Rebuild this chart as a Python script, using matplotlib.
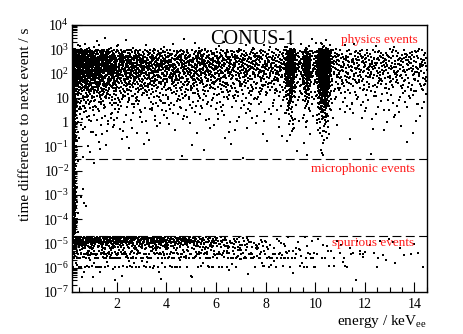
import numpy as np
import matplotlib
matplotlib.use('Agg')
import matplotlib.pyplot as plt
from matplotlib.ticker import FixedLocator, MultipleLocator, NullFormatter, LogLocator

plt.rcParams['font.family'] = 'Liberation Serif'
plt.rcParams['mathtext.fontset'] = 'custom'
plt.rcParams['mathtext.rm'] = 'Liberation Serif'
plt.rcParams['mathtext.it'] = 'Liberation Serif:italic'

# physics events: counts per energy bin (keV) and their share per log10(dt / s) row
phys_e_edges = [0.33, 0.5, 1.0, 1.5, 2.0, 2.5, 3.0, 3.5, 4.0, 4.5, 5.0, 5.5, 6.0, 6.5, 7.0,
                7.5, 8.0, 8.5, 9.0, 9.5, 10.0, 10.5, 11.0, 11.5, 12.0, 12.5, 13.0, 13.5, 14.0, 14.5]
phys_counts = [95, 270, 240, 200, 160, 140, 128, 120, 115, 112, 108, 104, 100, 96, 92,
               88, 85, 82, 80, 78, 75, 70, 66, 64, 62, 60, 58, 57, 56]
phys_lt_edges = [3.5, 3.25, 3.0, 2.75, 2.5, 2.25, 2.0, 1.75, 1.5, 1.25, 1.0, 0.75, 0.5, 0.0, -0.5, -1.0, -1.5]
phys_profile = [0.002, 0.01, 0.10, 0.16, 0.165, 0.15, 0.12, 0.09, 0.065, 0.045, 0.032, 0.024,
                0.028, 0.013, 0.006, 0.003]

# K-shell X-ray lines (Zn, Ga, Ge), same time profile as the physics band
zn_e_edges = [8.80, 8.90, 9.00, 9.10, 9.20]
zn_counts = [40, 90, 85, 35]
ga_e_edges = [9.50, 9.60, 9.70, 9.80]
ga_counts = [35, 70, 35]
ge_e_edges = [10.05, 10.15, 10.25, 10.35, 10.45, 10.55, 10.65]
ge_counts = [40, 135, 200, 190, 105, 30]

# noise column at threshold: energy bins x decades of dt
thr_e_edges = [0.20, 0.27, 0.34, 0.44]
thr_lt_edges = [3.0, 2.0, 1.0, 0.0, -1.0, -2.0, -3.0, -4.0, -4.72]
thr_counts = [[30, 24, 0],
              [30, 24, 0],
              [28, 22, 5],
              [28, 20, 5],
              [28, 18, 4],
              [28, 18, 4],
              [28, 18, 4],
              [20, 13, 3]]

# spurious events below 2e-5 s: 1 keV bins, rows (top, bottom) in log10(dt)
spur_e_edges = [0.2, 1, 2, 3, 4, 5, 6, 7, 8, 9, 10, 11, 12, 13, 14.5]
spur_lt_top = [-4.72, -4.85, -5.00, -5.20, -5.40, -5.44, -5.575, -5.61, -5.94, -5.98]
spur_lt_bot = [-4.85, -5.00, -5.20, -5.38, -5.44, -5.57, -5.61, -5.93, -5.98, -6.55]
spur_counts = [[30, 36, 34, 30, 24, 15, 7, 3, 2, 1, 1, 0, 1, 0],
               [32, 38, 36, 34, 30, 24, 15, 7, 3, 2, 1, 1, 1, 1],
               [20, 24, 22, 21, 19, 18, 16, 10, 5, 3, 2, 2, 1, 1],
               [9, 10, 9, 8, 8, 7, 7, 6, 4, 3, 2, 2, 1, 1],
               [10, 12, 11, 10, 9, 8, 7, 6, 4, 3, 2, 2, 1, 1],
               [4, 4, 4, 3, 3, 3, 3, 2, 2, 1, 1, 1, 1, 1],
               [9, 10, 9, 8, 7, 7, 6, 9, 8, 6, 2, 2, 1, 1],
               [4, 3, 3, 3, 2, 2, 2, 2, 2, 1, 1, 1, 1, 1],
               [6, 7, 6, 6, 5, 5, 4, 3, 3, 3, 2, 2, 1, 1],
               [4, 3, 2, 2, 2, 1, 1, 1, 1, 1, 0, 1, 0, 0]]

# single events in the microphonic window
micro_e = [1.07, 0.63, 0.67, 0.75, 0.55, 1.31, 10.3]
micro_lt = [-1.68, -2.75, -3.33, -3.45, -3.10, -1.10, -1.35]

micro_cut = 3e-2
spur_cut = 2e-5

y_decades = [-7, -6, -5, -4, -3, -2, -1, 0, 1, 2, 3, 4]
y_labels = ['$10^{-7}$', '$10^{-6}$', '$10^{-5}$', '$10^{-4}$', '$10^{-3}$', '$10^{-2}$',
            '$10^{-1}$', '1', '10', '$10^{2}$', '$10^{3}$', '$10^{4}$']
x_ticks = [2, 4, 6, 8, 10, 12, 14]

# events are laid out with a fixed Halton (2, 3) sequence, pushed through
# the binned distributions above
xs, ys = [], []
k0 = [37]


def radical_inverse(k, base):
    k = k.copy()
    r = np.zeros(len(k))
    f = 1.0
    while np.any(k > 0):
        f /= base
        r += f * (k % base)
        k //= base
    return r


def halton(n):
    k = k0[0] + np.arange(1, n + 1)
    k0[0] += n
    return radical_inverse(k, 2), radical_inverse(k, 3)


def inv_cdf(q, lo, hi, w):
    lo, hi, w = np.asarray(lo, float), np.asarray(hi, float), np.asarray(w, float)
    c = np.concatenate([[0], np.cumsum(w) / w.sum()])
    i = np.clip(np.searchsorted(c, q, side='right') - 1, 0, len(w) - 1)
    width = c[i + 1] - c[i]
    f = np.where(width > 0, (q - c[i]) / np.where(width > 0, width, 1), 0.5)
    return lo[i] + (hi[i] - lo[i]) * f


def block(e_edges, e_w, lt_lo, lt_hi, lt_w):
    n = int(round(sum(e_w)))
    if n == 0:
        return
    u, v = halton(n)
    xs.append(inv_cdf(u, e_edges[:-1], e_edges[1:], e_w))
    ys.append(inv_cdf(v, lt_lo, lt_hi, lt_w))


for e_edges, counts in [(phys_e_edges, phys_counts), (zn_e_edges, zn_counts),
                        (ga_e_edges, ga_counts), (ge_e_edges, ge_counts)]:
    block(e_edges, counts, phys_lt_edges[1:], phys_lt_edges[:-1], phys_profile)

thr = np.array(thr_counts)
for i in range(thr.shape[1]):
    block(thr_e_edges[i:i + 2], [thr[:, i].sum()], thr_lt_edges[1:], thr_lt_edges[:-1], thr[:, i])

spur = np.array(spur_counts)
for i in range(spur.shape[1]):
    block(spur_e_edges[i:i + 2], [spur[:, i].sum()], spur_lt_bot, spur_lt_top, spur[:, i])

xs.append(np.array(micro_e))
ys.append(np.array(micro_lt))

x = np.concatenate(xs)
y = 10 ** np.concatenate(ys)

fig = plt.figure(figsize=(4.63, 3.34), dpi=100)
ax = fig.add_axes([0.1555, 0.1257, 0.7665, 0.7994])

ax.scatter(x, y, s=1.6, marker='s', c='k', linewidths=0)

ax.axhline(micro_cut, color='k', lw=0.8, linestyle=(0, (8, 4)))
ax.axhline(spur_cut, color='k', lw=0.8, linestyle=(0, (8, 4)))

ax.set_yscale('log')
ax.set_xlim(0.2, 14.5)
ax.set_ylim(1e-7, 1e4)

ax.yaxis.set_major_locator(FixedLocator([10.0 ** d for d in y_decades]))
ax.set_yticklabels(y_labels)
ax.yaxis.set_minor_locator(LogLocator(base=10, subs=np.arange(2, 10), numticks=30))
ax.yaxis.set_minor_formatter(NullFormatter())
ax.xaxis.set_major_locator(FixedLocator(x_ticks))
ax.set_xticklabels([str(t) for t in x_ticks])
ax.xaxis.set_minor_locator(MultipleLocator(0.5))

ax.tick_params(which='both', direction='in', top=False, right=False, labelsize=10)
ax.tick_params(which='major', length=7, width=0.8)
ax.tick_params(which='minor', length=3.6, width=0.8)
ax.tick_params(axis='x', pad=4)
ax.tick_params(axis='y', pad=2)
for sp in ax.spines.values():
    sp.set_linewidth(1.0)

ax.text(0.51, 0.944, 'CONUS-1', transform=ax.transAxes, ha='center', va='center', fontsize=14.5)
ax.text(0.975, 0.944, 'physics events', transform=ax.transAxes, ha='right', va='center',
        fontsize=9.5, color='#ff1a1a')
ax.text(0.966, 0.461, 'microphonic events', transform=ax.transAxes, ha='right', va='center',
        fontsize=9.5, color='#ff1a1a')
ax.text(0.963, 0.184, 'spurious events', transform=ax.transAxes, ha='right', va='center',
        fontsize=9.5, color='#ff1a1a')

fig.text(0.922, 0.036, r'energy / keV$_{\rm ee}$', ha='right', va='center', fontsize=11)
fig.text(0.054, 0.916, 'time difference to next event / s', rotation=90, ha='center', va='top',
         fontsize=11)

fig.savefig('out.png', dpi=100)
